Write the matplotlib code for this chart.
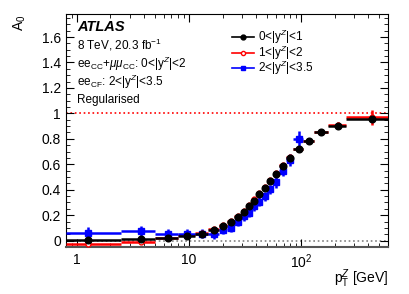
import matplotlib.pyplot as plt
import numpy as np
from matplotlib.ticker import MultipleLocator, FixedLocator, FixedFormatter
from matplotlib.lines import Line2D

# pT^Z bin edges [GeV]
edges = [0, 2.5, 5.0, 8.0, 11.4, 14.9, 18.5, 22.0, 25.5, 29.0, 32.6, 36.4,
         40.4, 44.9, 50.2, 56.4, 63.9, 73.4, 85.4, 105.0, 132.0, 173.0, 253.0, 600.0]

# A0 in 0<|yZ|<1
a0_y1 = [0.003, 0.01, 0.017, 0.037, 0.055, 0.084, 0.115, 0.147, 0.186, 0.225, 0.27,
         0.314, 0.363, 0.41, 0.468, 0.527, 0.59, 0.653, 0.72, 0.784, 0.85, 0.904, 0.958]
e_y1 = [0.008, 0.008, 0.008, 0.008, 0.008, 0.008, 0.008, 0.008, 0.008, 0.008, 0.008,
        0.008, 0.008, 0.008, 0.008, 0.008, 0.01, 0.01, 0.012, 0.012, 0.012, 0.015, 0.02]

# A0 in 1<|yZ|<2
a0_y2 = [-0.026, -0.008, 0.022, 0.042, 0.06, 0.09, 0.122, 0.155, 0.195, 0.235, 0.28,
         0.325, 0.372, 0.42, 0.478, 0.535, 0.598, 0.66, 0.72, 0.786, 0.852, 0.906, 0.97]
e_y2 = [0.01, 0.01, 0.01, 0.01, 0.01, 0.01, 0.01, 0.01, 0.01, 0.01, 0.01,
        0.01, 0.012, 0.012, 0.012, 0.012, 0.014, 0.014, 0.016, 0.016, 0.018, 0.025, 0.06]

# A0 in 2<|yZ|<3.5 (up to 105 GeV)
a0_y3 = [0.06, 0.073, 0.055, 0.053, 0.055, 0.05, 0.086, 0.1, 0.15, 0.19, 0.22,
         0.27, 0.306, 0.348, 0.405, 0.457, 0.544, 0.635, 0.8]
e_y3 = [0.05, 0.04, 0.035, 0.035, 0.035, 0.035, 0.035, 0.035, 0.035, 0.035, 0.035,
        0.035, 0.035, 0.035, 0.035, 0.04, 0.04, 0.045, 0.06]

edges = np.array(edges)
lo = edges[:-1]
hi = edges[1:]
centres = (lo + hi) / 2

plt.rcParams['font.family'] = ['Liberation Sans', 'DejaVu Sans']
plt.rcParams['mathtext.fontset'] = 'custom'
plt.rcParams['mathtext.rm'] = 'Liberation Sans'
plt.rcParams['mathtext.it'] = 'Liberation Sans:italic'

fig, ax = plt.subplots(figsize=(4.09, 2.94), dpi=100)
fig.subplots_adjust(left=0.161, right=0.949, top=0.952, bottom=0.16)

xmin = 0.8


def draw(vals, errs, color, marker, mfc, n, ms):
    x = centres[:n]
    xl = np.maximum(lo[:n], xmin)
    xerr = [x - xl, hi[:n] - x]
    ax.errorbar(x, vals, yerr=errs, xerr=xerr, fmt=marker, color=color, mfc=mfc,
                mec=color, ms=ms, lw=1.8, capsize=0, zorder=3)


draw(a0_y2, e_y2, 'red', 'o', 'white', 23, 3.5)
draw(a0_y3, e_y3, 'blue', 's', 'blue', 19, 4)
draw(a0_y1, e_y1, 'black', 'o', 'black', 23, 4.8)

ax.axhline(1, color='red', ls=':', lw=1.2, zorder=1)
ax.axhline(0, color='gray', ls=':', lw=1.2, zorder=1)

ax.set_xscale('log')
ax.set_xlim(xmin, 600)
ax.set_ylim(-0.05, 1.78)
ax.xaxis.set_major_locator(FixedLocator([1, 10, 100]))
ax.xaxis.set_major_formatter(FixedFormatter(['1', '10', r'10$^{2}$']))
ax.yaxis.set_minor_locator(MultipleLocator(0.05))
ax.set_yticks([0, 0.2, 0.4, 0.6, 0.8, 1, 1.2, 1.4, 1.6])
ax.set_yticklabels(['0', '0.2', '0.4', '0.6', '0.8', '1', '1.2', '1.4', '1.6'])
ax.tick_params(which='both', direction='in', top=True, right=True, labelsize=10)
ax.tick_params(which='major', length=6)
ax.tick_params(which='minor', length=3)
ax.tick_params(axis='x', pad=4)
ax.spines['bottom'].set_color('#555555')
ax.spines['bottom'].set_linewidth(1.5)

fig.text(388 / 409, 1 - 283 / 294, r'p$_{\mathrm{T}}^{Z}$ [GeV]', ha='right',
         va='baseline', fontsize=10)
ax.set_ylabel(r'A$_0$', loc='top', fontsize=10)
ax.yaxis.set_label_coords(-0.118, 1.0)

ax.text(0.035, 0.944, 'ATLAS', transform=ax.transAxes, fontsize=10.5,
        fontweight='bold', fontstyle='italic', va='center')
ax.text(0.035, 0.867, r'8 TeV, 20.3 fb$^{-1}$', transform=ax.transAxes,
        fontsize=8.5, va='center')
ax.text(0.035, 0.785, r'ee$_{\mathrm{CC}}$+$\mu\mu_{\mathrm{CC}}$: 0<|y$^{Z}$|<2',
        transform=ax.transAxes, fontsize=8.5, va='center')
ax.text(0.035, 0.708, r'ee$_{\mathrm{CF}}$: 2<|y$^{Z}$|<3.5', transform=ax.transAxes,
        fontsize=8.5, va='center')
ax.text(0.035, 0.631, 'Regularised', transform=ax.transAxes, fontsize=8.5, va='center')

handles = [Line2D([], [], color='black', marker='o', ms=3.5, lw=1.2),
           Line2D([], [], color='red', marker='o', mfc='white', ms=3, lw=1.2),
           Line2D([], [], color='blue', marker='s', ms=3, lw=1.2)]
labels = [r'0<|y$^{Z}$|<1', r'1<|y$^{Z}$|<2', r'2<|y$^{Z}$|<3.5']
ax.legend(handles, labels, loc='upper left', bbox_to_anchor=(0.49, 0.975),
          frameon=False, fontsize=8.5, handlelength=1.9, handletextpad=0.3,
          labelspacing=-0.25, borderpad=0.2)

fig.savefig('out.png', dpi=100)
